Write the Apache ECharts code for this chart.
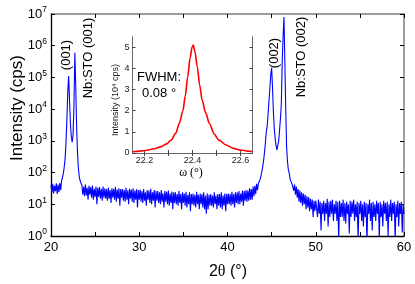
<!DOCTYPE html>
<html><head><meta charset="utf-8">
<script src="https://cdn.jsdelivr.net/npm/echarts@6/dist/echarts.min.js"></script>
<style>html,body{margin:0;padding:0;background:#fff}#c{width:415px;height:284px}</style>
</head><body><div id="c"></div>
<script>
// ---- main 2θ scan (cps), step 0.1°, segments start at these 2θ values ----
const scanStep = 0.1;
const segmentStarts = [20.0, 21.3, 23.5, 43.5, 47.4];
const lowAngleBg = [40,24,44,22,39,26,46,21,42,24,47,28,55];
const peak001 = [70,95,150,280,900,4500,35000,110000,18000,3500,1400,900,1600,12000,600000,60000,3000,450,140,75,55,48];
const midBg = [
40,20,36,18,42,19,33,14,38,20,35,16,39,14,31,17,36,10,33,17,35,15,31,13,36,16,
32,15,30,13,34,15,28,11,32,16,31,14,35,12,29,15,32,9,30,16,30,13,28,12,33,14,27,10,31,15,29,12,32,11,27,14,30,8,28,14,
29,12,26,11,30,13,24,9,28,14,
27,11,31,10,24,13,28,8,26,13,
26,11,24,10,28,12,22,8,26,12,
25,10,27,9,22,11,25,7,24,11,
24,10,21,9,26,11,21,7,24,11,
22,9,25,8,20,10,24,6,21,10,
22,9,20,8,25,10,20,7,22,10,
21,8,24,7,19,5,22,7,20,9,
21,9,19,8,24,10,19,7,21,9,
21,8,24,7,19,9,22,6,21,10,
22,10,21,9,25,10,21,8,24,11,
24,10,26,10,22,12,27,9,26,13,
28,12,27,13,32,14,30,14,36,18,
38,21,44,28];
const peak002 = [45,50,62,80,110,160,250,450,900,2000,
3000,7000,18000,45000,120000,200000,50000,8000,2500,1200,
700,520,600,1000,2200,5000,15000,300000,2000000,8000000,
300000,10000,600,220,120,95,60,52,45];
const highAngleBg = [48,27,42,20,36,16,30,12,27,11,24,9,22,10,20,7,18,8,17,6,15,7,14,4,13,6,13,
12,4,14,5,12,1.5,11,5,13,3,
11,5,15,2,12,4,13,5,14,3,
10,5,13,3,12,0.8,13,4,11,4,
14,3,11,2.5,12,5,10,1.2,13,4,
12,5,14,3,10,4,12,0.7,11,5,
13,3,10,2,12,4,11,0.6,10,5,
14,3,11,1.5,12,4,10,3,13,5,
11,0.8,12,4,10,2,13,5,11,3,
12,1,10,4,14,3,11,5,12,0.7,
10,4,13,2,11,5,12,1.3,10,5];
const segments = [lowAngleBg, peak001, midBg, peak002, highAngleBg];

// ---- inset rocking curve (10^4 cps) ----
const omega = [22.15,22.18,22.21,22.24,22.27,22.29,22.31,22.33,22.345,22.36,22.37,22.38,22.39,22.398,22.403,22.41,22.42,22.43,22.44,22.455,22.47,22.49,22.51,22.54,22.57,22.60,22.63,22.65];
const rockInt = [0.06,0.09,0.13,0.2,0.3,0.42,0.6,0.93,1.4,2.0,2.7,3.6,4.5,5.0,5.1,4.8,4.07,3.2,2.5,1.9,1.41,0.9,0.61,0.38,0.22,0.14,0.09,0.07];
const insetXLabels = [22.2,22.4,22.6];
const insetXTicks = [22.2,22.3,22.4,22.5,22.6];
const insetYTicks = [0,1,2,3,4,5];

const scan = [];
segments.forEach((seg, s) => seg.forEach((v, i) => scan.push([+(segmentStarts[s] + i * scanStep).toFixed(2), v])));
const rock = omega.map((w, i) => [w, rockInt[i]]);

const F = '"Liberation Sans", Arial, sans-serif';
const SERIF = '"Liberation Serif", "DejaVu Serif", serif';
const chart = echarts.init(document.getElementById('c'), null, {renderer: 'canvas'});
const axLineBlack = {show: true, lineStyle: {color: '#000', width: 1.3}};
const axLineGray = {show: true, lineStyle: {color: '#7f7f7f', width: 1.5}};
const tick = {show: true, inside: true, length: 4, lineStyle: {color: '#000', width: 1}};

chart.setOption({
  animation: false,
  backgroundColor: '#fff',
  grid: [
    {left: 51, top: 14, width: 353, height: 222},
    {left: 132.5, top: 36.7, width: 120, height: 116.3}
  ],
  xAxis: [
    {gridIndex: 0, type: 'value', min: 20, max: 60, interval: 10, position: 'bottom',
     axisLine: axLineBlack, axisTick: tick, minorTick: {show: true, splitNumber: 2, length: 4, lineStyle: {color: '#000'}},
     splitLine: {show: false}, minorSplitLine: {show: false},
     axisLabel: {fontFamily: F, fontSize: 13, color: '#000', margin: 5}},
    {gridIndex: 0, type: 'value', min: 20, max: 60, interval: 10, position: 'top',
     axisLine: axLineGray, axisTick: tick, minorTick: {show: true, splitNumber: 2, length: 4, lineStyle: {color: '#000'}},
     splitLine: {show: false}, axisLabel: {show: false}},
    {gridIndex: 1, type: 'value', min: 22.15, max: 22.65, position: 'bottom',
     axisLine: {show: true, lineStyle: {color: '#666', width: 1}},
     axisTick: {show: true, inside: true, length: 3, customValues: insetXTicks, lineStyle: {color: '#444'}},
     splitLine: {show: false},
     axisLabel: {customValues: insetXLabels, fontFamily: F, fontSize: 9, color: '#222', margin: 3}},
    {gridIndex: 1, type: 'value', min: 22.15, max: 22.65, position: 'top',
     axisLine: {show: false},
     axisTick: {show: true, inside: true, length: 3, customValues: insetXTicks, lineStyle: {color: '#444'}},
     splitLine: {show: false}, axisLabel: {show: false}}
  ],
  yAxis: [
    {gridIndex: 0, type: 'log', logBase: 10, min: 1, max: 1e7, interval: 1, position: 'left',
     axisLine: axLineBlack, axisTick: tick, splitLine: {show: false}, minorTick: {show: false},
     axisLabel: {margin: 4, formatter: v => '{b|10}{s|' + Math.round(Math.log10(v)) + '}',
       rich: {b: {fontFamily: F, fontSize: 13, color: '#000', lineHeight: 13, verticalAlign: 'bottom'},
              s: {fontFamily: F, fontSize: 8.5, color: '#000', lineHeight: 9, padding: [0, 0, 6, 0], verticalAlign: 'bottom'}}}},
    {gridIndex: 0, type: 'log', logBase: 10, min: 1, max: 1e7, interval: 1, position: 'right',
     axisLine: axLineGray, axisTick: tick, splitLine: {show: false}, axisLabel: {show: false}},
    {gridIndex: 1, type: 'value', min: 0, max: 5.5, position: 'left',
     axisLine: {show: true, lineStyle: {color: '#666', width: 1}},
     axisTick: {show: true, inside: true, length: 3, customValues: insetYTicks, lineStyle: {color: '#444'}},
     splitLine: {show: false},
     axisLabel: {customValues: insetYTicks, fontFamily: F, fontSize: 9, color: '#222', margin: 3}},
    {gridIndex: 1, type: 'value', min: 0, max: 5.5, position: 'right',
     axisLine: {show: true, lineStyle: {color: '#666', width: 1}},
     axisTick: {show: true, inside: true, length: 3, customValues: insetYTicks, lineStyle: {color: '#444'}},
     splitLine: {show: false}, axisLabel: {show: false}}
  ],
  series: [
    {type: 'line', xAxisIndex: 0, yAxisIndex: 0, data: scan, showSymbol: false, symbol: 'none',
     sampling: 'none', clip: true, lineStyle: {color: '#0000ff', width: 1.1}},
    {type: 'line', xAxisIndex: 2, yAxisIndex: 2, data: rock, showSymbol: false, symbol: 'none',
     smooth: 0.3, smoothMonotone: 'x', clip: true, lineStyle: {color: '#ff0000', width: 1.6}}
  ],
  graphic: [
    {type: 'text', x: 17, y: 108, rotation: Math.PI / 2,
     style: {text: 'Intensity (cps)', font: '17px ' + F, fill: '#000', textAlign: 'center', textVerticalAlign: 'middle'}},
    {type: 'text', x: 228, y: 272,
     style: {text: '2{t|θ} (°)', font: '16px ' + F, fill: '#000', textAlign: 'center', textVerticalAlign: 'middle',
       rich: {t: {fontFamily: SERIF, fontSize: 16, fill: '#000'}}}},
    {type: 'text', x: 66, y: 55, rotation: Math.PI / 2,
     style: {text: '(001)', font: '13px ' + F, fill: '#000', textAlign: 'center', textVerticalAlign: 'middle'}},
    {type: 'text', x: 88, y: 58, rotation: Math.PI / 2,
     style: {text: 'Nb:STO (001)', font: '13px ' + F, fill: '#000', textAlign: 'center', textVerticalAlign: 'middle'}},
    {type: 'text', x: 274, y: 53, rotation: Math.PI / 2,
     style: {text: '(002)', font: '13px ' + F, fill: '#000', textAlign: 'center', textVerticalAlign: 'middle'}},
    {type: 'text', x: 301, y: 57, rotation: Math.PI / 2,
     style: {text: 'Nb:STO (002)', font: '13px ' + F, fill: '#000', textAlign: 'center', textVerticalAlign: 'middle'}},
    {type: 'text', x: 137, y: 77,
     style: {text: 'FWHM:', font: '13px ' + F, fill: '#000', textAlign: 'left', textVerticalAlign: 'middle'}},
    {type: 'text', x: 142, y: 93,
     style: {text: '0.08 °', font: '13px ' + F, fill: '#000', textAlign: 'left', textVerticalAlign: 'middle'}},
    {type: 'text', x: 116, y: 100, rotation: Math.PI / 2,
     style: {text: 'Intensity (10{s|4} cps)', font: '9px ' + F, fill: '#222', textAlign: 'center', textVerticalAlign: 'middle',
       rich: {s: {fontFamily: F, fontSize: 6, fill: '#222', padding: [0, 0, 4, 0], verticalAlign: 'bottom'}}}},
    {type: 'text', x: 191, y: 173,
     style: {text: 'ω (°)', font: '12px ' + SERIF, fill: '#000', textAlign: 'center', textVerticalAlign: 'middle'}}
  ]
});
</script></body></html>
